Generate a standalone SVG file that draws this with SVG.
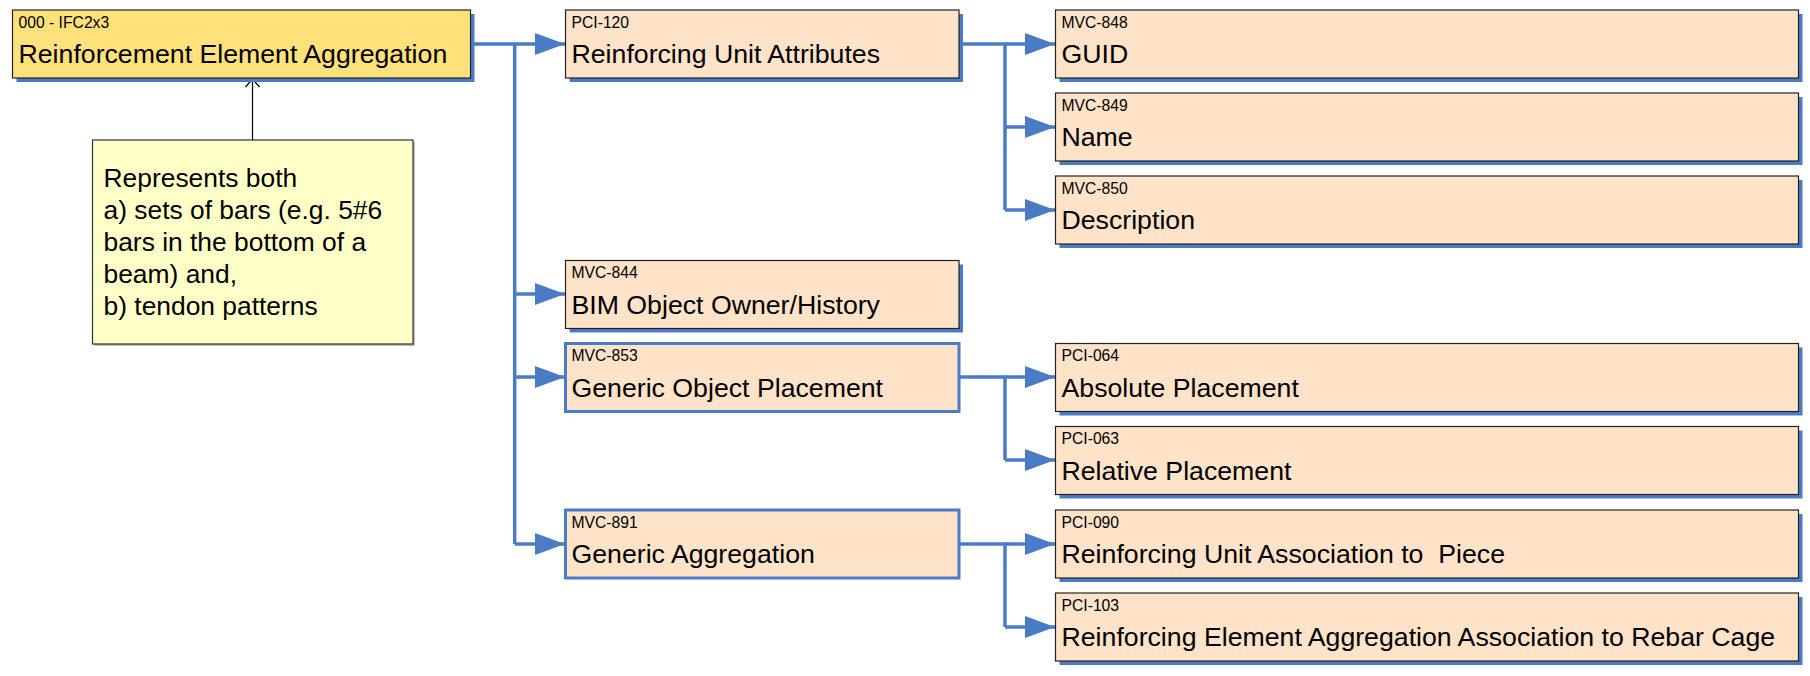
<svg xmlns="http://www.w3.org/2000/svg" width="1810" height="676" viewBox="0 0 1810 676">
<defs>
<marker id="tri" viewBox="0 0 30 22" refX="30" refY="11" markerWidth="30" markerHeight="22" markerUnits="userSpaceOnUse" orient="auto">
<path d="M0,0 L30,11 L0,22 Z" fill="#4A7CC6"/>
</marker>
</defs>
<style>
.sh{fill:#4A7CC6}
.box{fill:#FFE3C8;stroke:#222;stroke-width:1.2}
.bbox{fill:#FFE3C8;stroke:#4A7CC6;stroke-width:3}
.root{fill:#FFE17C;stroke:#222;stroke-width:1.2}
.id{font-family:"Liberation Sans",Arial,sans-serif;font-size:15.7px;fill:#000}
.lb{font-family:"Liberation Sans",Arial,sans-serif;font-size:26.7px;fill:#000;white-space:pre}
.note{font-family:"Liberation Sans",Arial,sans-serif;font-size:26.4px;fill:#000}
.cn{fill:none;stroke:#4A7CC6;stroke-width:3.5}
</style>
<rect width="1810" height="676" fill="#fff"/>

<g id="connectors">
<path class="cn" d="M470,44 H514.7 V544"/>
<path class="cn" d="M514.7,44 H565" marker-end="url(#tri)"/>
<path class="cn" d="M514.7,294 H565" marker-end="url(#tri)"/>
<path class="cn" d="M514.7,377 H565" marker-end="url(#tri)"/>
<path class="cn" d="M514.7,544 H565" marker-end="url(#tri)"/>
<path class="cn" d="M959,44 H1005 V210"/>
<path class="cn" d="M1005,44 H1055" marker-end="url(#tri)"/>
<path class="cn" d="M1005,127 H1055" marker-end="url(#tri)"/>
<path class="cn" d="M1005,210 H1055" marker-end="url(#tri)"/>
<path class="cn" d="M959,377 H1005 V460"/>
<path class="cn" d="M1005,377 H1055" marker-end="url(#tri)"/>
<path class="cn" d="M1005,460 H1055" marker-end="url(#tri)"/>
<path class="cn" d="M959,544 H1005 V627"/>
<path class="cn" d="M1005,544 H1055" marker-end="url(#tri)"/>
<path class="cn" d="M1005,627 H1055" marker-end="url(#tri)"/>
<path d="M252.5,140 V79" fill="none" stroke="#000" stroke-width="1.2"/>
<path d="M245.5,87 L252.5,79 L259.5,87" fill="none" stroke="#000" stroke-width="1.2"/>
</g>

<g id="root">
<rect class="sh" x="16.5" y="14" width="458" height="68"/>
<rect class="root" x="12.5" y="10" width="458" height="68"/>
<text class="id" x="18.5" y="27.5">000 - IFC2x3</text>
<text class="lb" x="18.5" y="63">Reinforcement Element Aggregation</text>
</g>

<g id="note">
<rect x="94.5" y="142" width="320.5" height="204" fill="#bbb"/>
<rect x="92.5" y="140" width="320.5" height="204" fill="#FFFFC8" stroke="#333" stroke-width="1.2"/>
<text class="note" x="103.5" y="186.5">Represents both</text>
<text class="note" x="103.5" y="218.5">a) sets of bars (e.g. 5#6</text>
<text class="note" x="103.5" y="250.5">bars in the bottom of a</text>
<text class="note" x="103.5" y="282.5">beam) and,</text>
<text class="note" x="103.5" y="314.5">b) tendon patterns</text>
</g>

<g id="pci-120">
<rect class="sh" x="569.5" y="14" width="393.5" height="68"/>
<rect class="box" x="565.5" y="10" width="393.5" height="68"/>
<text class="id" x="571.5" y="27.5">PCI-120</text>
<text class="lb" x="571.5" y="63">Reinforcing Unit Attributes</text>
</g>

<g id="mvc-844">
<rect class="sh" x="569.5" y="264.5" width="393.5" height="68"/>
<rect class="box" x="565.5" y="260.5" width="393.5" height="68"/>
<text class="id" x="571.5" y="278">MVC-844</text>
<text class="lb" x="571.5" y="313.5">BIM Object Owner/History</text>
</g>

<g id="mvc-853">
<rect class="bbox" x="565.5" y="343.5" width="393.5" height="68"/>
<text class="id" x="571.5" y="361">MVC-853</text>
<text class="lb" x="571.5" y="396.5">Generic Object Placement</text>
</g>

<g id="mvc-891">
<rect class="bbox" x="565.5" y="510" width="393.5" height="68"/>
<text class="id" x="571.5" y="527.5">MVC-891</text>
<text class="lb" x="571.5" y="563">Generic Aggregation</text>
</g>

<g id="mvc-848">
<rect class="sh" x="1059.5" y="14" width="743" height="68"/>
<rect class="box" x="1055.5" y="10" width="743" height="68"/>
<text class="id" x="1061.5" y="27.5">MVC-848</text>
<text class="lb" x="1061.5" y="63">GUID</text>
</g>

<g id="mvc-849">
<rect class="sh" x="1059.5" y="97" width="743" height="68"/>
<rect class="box" x="1055.5" y="93" width="743" height="68"/>
<text class="id" x="1061.5" y="110.5">MVC-849</text>
<text class="lb" x="1061.5" y="146">Name</text>
</g>

<g id="mvc-850">
<rect class="sh" x="1059.5" y="180" width="743" height="68"/>
<rect class="box" x="1055.5" y="176" width="743" height="68"/>
<text class="id" x="1061.5" y="193.5">MVC-850</text>
<text class="lb" x="1061.5" y="229">Description</text>
</g>

<g id="pci-064">
<rect class="sh" x="1059.5" y="347.5" width="743" height="68"/>
<rect class="box" x="1055.5" y="343.5" width="743" height="68"/>
<text class="id" x="1061.5" y="361">PCI-064</text>
<text class="lb" x="1061.5" y="396.5">Absolute Placement</text>
</g>

<g id="pci-063">
<rect class="sh" x="1059.5" y="430.5" width="743" height="68"/>
<rect class="box" x="1055.5" y="426.5" width="743" height="68"/>
<text class="id" x="1061.5" y="444">PCI-063</text>
<text class="lb" x="1061.5" y="479.5">Relative Placement</text>
</g>

<g id="pci-090">
<rect class="sh" x="1059.5" y="514" width="743" height="68"/>
<rect class="box" x="1055.5" y="510" width="743" height="68"/>
<text class="id" x="1061.5" y="527.5">PCI-090</text>
<text class="lb" x="1061.5" y="563">Reinforcing Unit Association to  Piece</text>
</g>

<g id="pci-103">
<rect class="sh" x="1059.5" y="597" width="743" height="68"/>
<rect class="box" x="1055.5" y="593" width="743" height="68"/>
<text class="id" x="1061.5" y="610.5">PCI-103</text>
<text class="lb" x="1061.5" y="646">Reinforcing Element Aggregation Association to Rebar Cage</text>
</g>
</svg>
